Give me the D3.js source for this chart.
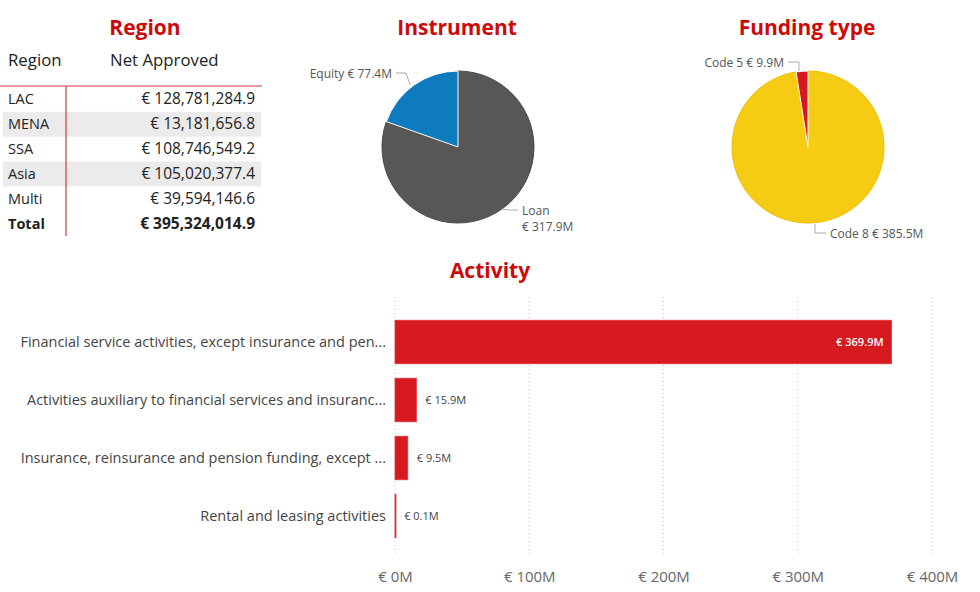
<!DOCTYPE html>
<html><head><meta charset="utf-8">
<script src="https://cdn.jsdelivr.net/npm/d3@7"></script>
<style>body{margin:0;background:#fff}svg{display:block}</style>
</head><body>
<svg id="c" width="980" height="592"></svg>
<script>
const regions = ["LAC","MENA","SSA","Asia","Multi"];
const regionValues = [128781284.9,13181656.8,108746549.2,105020377.4,39594146.6];
const regionTotal = 395324014.9;

const instruments = ["Loan","Equity"];
const instrumentValues = [317.9,77.4];

const fundingTypes = ["Code 8","Code 5"];
const fundingValues = [385.5,9.9];

const activities = ["Financial service activities, except insurance and pen...",
  "Activities auxiliary to financial services and insuranc...",
  "Insurance, reinsurance and pension funding, except ...",
  "Rental and leasing activities"];
const activityValues = [369.9,15.9,9.5,0.1];
const activityTicks = [0,100,200,300,400];

const svg = d3.select("#c");
const FONT = "'Open Sans', sans-serif";
const titleRed = "#cc0a0a";
const fmtNum = d3.format(",.1f");

function title(x,y,t){
  svg.append("text").attr("x",x).attr("y",y).attr("text-anchor","middle")
    .attr("font-family",FONT).attr("font-weight",700).attr("font-size",21)
    .attr("fill",titleRed).text(t);
}
title(145,35,"Region");
title(457,35,"Instrument");
title(807,35,"Funding type");
title(490,278,"Activity");

// Table
const tg = svg.append("g").attr("font-family",FONT).attr("font-size",15.5).attr("fill","#222");
tg.append("text").attr("x",8).attr("y",66).attr("font-size",16.8).text("Region");
tg.append("text").attr("x",110).attr("y",66).attr("font-size",16.8).text("Net Approved");
const rowY = d3.scaleBand().domain(d3.range(regions.length+1)).range([87,236]);
regions.forEach((r,i)=>{
  if(i%2===1) tg.append("rect").attr("x",3).attr("y",rowY(i)).attr("width",258).attr("height",rowY.bandwidth()).attr("fill","#ebebeb");
});
regions.forEach((r,i)=>{
  const yy = rowY(i)+rowY.bandwidth()/2+5;
  tg.append("text").attr("x",8).attr("y",yy).attr("font-size",14.5).text(r);
  tg.append("text").attr("x",255).attr("y",yy).attr("text-anchor","end").text("€ "+fmtNum(regionValues[i]));
});
{
  const yy = rowY(regions.length)+rowY.bandwidth()/2+5;
  tg.append("text").attr("x",8).attr("y",yy).attr("font-size",14.5).attr("font-weight",700).text("Total");
  tg.append("text").attr("x",255).attr("y",yy).attr("font-weight",700).attr("text-anchor","end").text("€ "+fmtNum(regionTotal));
}
svg.append("line").attr("x1",0).attr("x2",262).attr("y1",86).attr("y2",86).attr("stroke","#d9363e").attr("stroke-width",1.2);
svg.append("line").attr("x1",66).attr("x2",66).attr("y1",86).attr("y2",236).attr("stroke","#d9363e").attr("stroke-width",1.2);

// Pies
function pie(cx,cy,r,names,vals,colors,strokeCol){
  const arcs = d3.pie().sort(null).value(d=>d)(vals);
  const g = svg.append("g").attr("transform",`translate(${cx},${cy})`);
  g.selectAll("path").data(arcs).join("path")
    .attr("d",d3.arc().innerRadius(0).outerRadius(r))
    .attr("fill",(d,i)=>colors[i]).attr("stroke",(d,i)=>strokeCol[i]).attr("stroke-width",1);
  return arcs;
}
const lblStyle = s=>s.attr("font-family",FONT).attr("font-size",12).attr("fill","#555");
const leader = (pts)=>svg.append("path").attr("d",d3.line()(pts)).attr("fill","none").attr("stroke","#aaa").attr("stroke-width",1);

const ia = pie(458,147,76,instruments,instrumentValues,["#595755","#0f7bbf"],["#4a4a4a","#ffffff"]);
{
  const a = d3.arc().innerRadius(76).outerRadius(76);
  const p = a.centroid(ia[1]);
  leader([[396,73],[406,73],[458+p[0]-4,147+p[1]]]);
  lblStyle(svg.append("text")).attr("x",392).attr("y",78).attr("text-anchor","end").text("Equity € 77.4M");
  const q = a.centroid(ia[0]);
  leader([[458+q[0],147+q[1]],[510,210],[518,210]]);
  lblStyle(svg.append("text")).attr("x",522).attr("y",215).text("Loan");
  lblStyle(svg.append("text")).attr("x",522).attr("y",231).text("€ 317.9M");
}
const fa = pie(808,147,76,fundingTypes,fundingValues,["#f5cb13","#d71a1f"],["#f0c000","#ffffff"]);
{
  leader([[788,62],[799,62],[799,71]]);
  lblStyle(svg.append("text")).attr("x",784).attr("y",67).attr("text-anchor","end").text("Code 5 € 9.9M");
  leader([[815,224],[815,233],[826,233]]);
  lblStyle(svg.append("text")).attr("x",830).attr("y",238).text("Code 8 € 385.5M");
}

// Bar chart
const x = d3.scaleLinear().domain([0,400]).range([395,932]);
const y = d3.scaleBand().domain(activities).range([313,545]).paddingInner(0.25).paddingOuter(0.125);
const bg = svg.append("g");
bg.selectAll("line.grid").data(activityTicks).join("line").attr("class","grid")
  .attr("x1",d=>x(d)).attr("x2",d=>x(d)).attr("y1",297).attr("y2",556)
  .attr("stroke","#c8c8c8").attr("stroke-dasharray","1,3");
const xAxis = d3.axisBottom(x).tickValues(activityTicks).tickFormat(d=>"€ "+d+"M").tickSize(0).tickPadding(0);
const ax = svg.append("g").attr("transform","translate(0,571)").call(xAxis);
ax.select(".domain").remove();
ax.selectAll("text").attr("font-family",FONT).attr("font-size",15).attr("fill","#666");
const yAxis = d3.axisLeft(y).tickSize(0).tickPadding(0);
const ay = svg.append("g").attr("transform","translate(386,0)").call(yAxis);
ay.select(".domain").remove();
ay.selectAll("text").attr("font-family",FONT).attr("font-size",14.5).attr("fill","#444").attr("dy","0.32em");
bg.selectAll("rect").data(activityValues).join("rect")
  .attr("x",x(0)).attr("y",(d,i)=>y(activities[i])).attr("height",y.bandwidth())
  .attr("width",d=>Math.max(1,x(d)-x(0))).attr("fill","#d71a1f").attr("stroke","#e0353a").attr("stroke-width",0.8);
bg.selectAll("text.v").data(activityValues).join("text").attr("class","v")
  .attr("font-family",FONT).attr("font-size",11)
  .attr("y",(d,i)=>y(activities[i])+y.bandwidth()/2+4)
  .attr("x",(d,i)=>i===0? x(d)-8 : x(d)+9)
  .attr("text-anchor",(d,i)=>i===0?"end":"start")
  .attr("fill",(d,i)=>i===0?"#fff":"#444")
  .attr("font-weight",(d,i)=>i===0?600:400)
  .text(d=>"€ "+d.toFixed(1)+"M");
</script>
</body></html>
